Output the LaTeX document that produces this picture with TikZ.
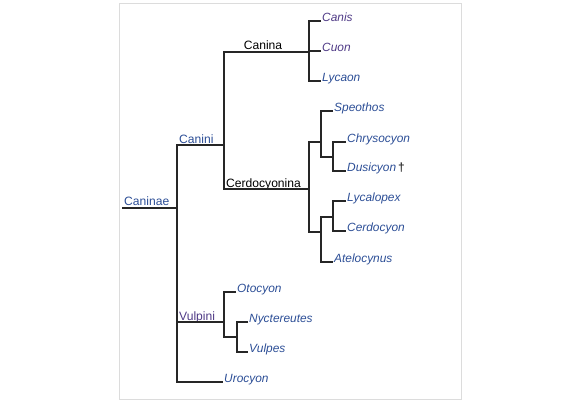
\documentclass[tikz,border=0pt]{standalone}
\usepackage{fontspec}
\setmainfont{Liberation Sans}
\definecolor{taxblue}{HTML}{2C4E96}
\definecolor{taxpurple}{HTML}{4F3A86}
\definecolor{framegray}{HTML}{DCDCDC}
\begin{document}
\begin{tikzpicture}[x=1pt,y=-1pt,
  branch/.style={line width=1.3pt, draw=black!85},
  tip/.style={anchor=base west, inner xsep=1pt, inner ysep=0pt,
    font=\fontsize{11.9}{13}\selectfont\itshape, text=taxblue},
  clade/.style={anchor=base west, inner sep=0pt,
    font=\fontsize{12.1}{13}\selectfont, text=taxblue},
]
\useasboundingbox (0,0) rectangle (588,405);
\draw[framegray, line width=0.8pt] (119,3) rectangle (461,399);

% junctions
\coordinate (root) at (122,208);
\coordinate (caninaeJ) at (177,208);
\coordinate (caniniJ) at (224,145);
\coordinate (vulpiniJ) at (224,322);
\coordinate (caninaJ) at (309,52);
\coordinate (cerdoJ) at (309,189);
\coordinate (speoJ) at (321,142);
\coordinate (chdJ) at (333,157);
\coordinate (lowJ) at (321,232);
\coordinate (lcJ) at (333,217);
\coordinate (nvJ) at (237,337);

% tips
\node[tip, text=taxpurple] (canis) at (321,21) {Canis};
\node[tip, text=taxpurple] (cuon) at (321,51) {Cuon};
\node[tip] (lycaon) at (321,81) {Lycaon};
\node[tip] (speothos) at (333,111) {Speothos};
\node[tip] (chrysocyon) at (346,142) {Chrysocyon};
\node[tip] (dusicyon) at (346,171) {Dusicyon{\upshape\bfseries\color{black!80}\,†}};
\node[tip] (lycalopex) at (346,201) {Lycalopex};
\node[tip] (cerdocyon) at (346,231) {Cerdocyon};
\node[tip] (atelocynus) at (333,262) {Atelocynus};
\node[tip] (otocyon) at (236,292) {Otocyon};
\node[tip] (nyctereutes) at (248,322) {Nyctereutes};
\node[tip] (vulpes) at (248,352) {Vulpes};
\node[tip] (urocyon) at (223,382) {Urocyon};

% clade labels
\node[clade] (lcaninae) at (124,205) {Caninae};
\node[clade] (lcanini) at (179,143) {Canini};
\node[clade, text=taxpurple] (lvulpini) at (179,320) {Vulpini};
\node[clade, anchor=base, text=black] (lcanina) at (263,49) {Canina};
\node[clade, text=black] (lcerdo) at (226,187) {Cerdocyonina};

% branches
\draw[branch] (root) -- (caninaeJ);
\draw[branch] (caniniJ) -| (caninaeJ) |- (urocyon.base west);
\draw[branch] (vulpiniJ) -- (vulpiniJ -| caninaeJ);
\draw[branch] (caninaJ) -| (caniniJ) |- (cerdoJ);
\draw[branch] (canis.base west) -| (caninaJ) |- (lycaon.base west);
\draw[branch] (cuon.base west) -- (cuon.base west -| caninaJ);
\draw[branch] (speoJ) -| (cerdoJ) |- (lowJ);
\draw[branch] (speothos.base west) -| (speoJ) |- (chdJ);
\draw[branch] (chrysocyon.base west) -| (chdJ) |- (dusicyon.base west);
\draw[branch] (lcJ) -| (lowJ) |- (atelocynus.base west);
\draw[branch] (lycalopex.base west) -| (lcJ) |- (cerdocyon.base west);
\draw[branch] (otocyon.base west) -| (vulpiniJ) |- (nvJ);
\draw[branch] (nyctereutes.base west) -| (nvJ) |- (vulpes.base west);
\end{tikzpicture}
\end{document}
